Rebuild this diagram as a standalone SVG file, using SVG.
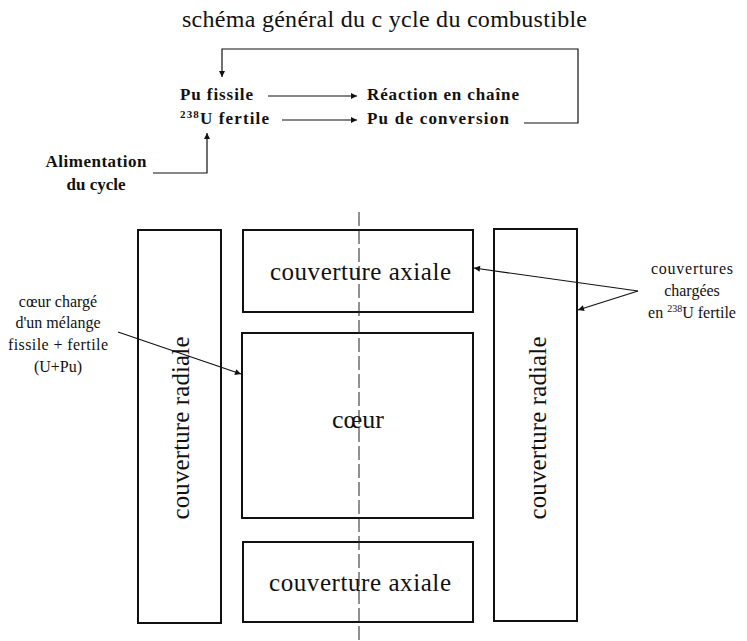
<svg xmlns="http://www.w3.org/2000/svg" width="747" height="641" viewBox="0 0 747 641">
  <style>
    .t { font-family: "Liberation Serif", "Times New Roman", serif; fill: #111; }
    .title { font-size: 24px; }
    .lbl { font-size: 17px; font-weight: bold; }
    .box { fill: none; stroke: #111; stroke-width: 2; }
    .big { font-size: 25px; }
    .small { font-size: 16px; }
    .ln { fill: none; stroke: #111; stroke-width: 1.2; }
    .axis { fill: none; stroke: #222; stroke-width: 1; stroke-dasharray: 14 4; }
  </style>
  <defs>
    <marker id="ah" viewBox="0 0 10 10" refX="10" refY="5" markerWidth="8" markerHeight="6" markerUnits="userSpaceOnUse" orient="auto">
      <path d="M0,0 L10,5 L0,10 z" fill="#111"/>
    </marker>
  </defs>

  <rect width="747" height="641" fill="#fff"/>

  <text class="t title" x="182" y="27" textLength="405" lengthAdjust="spacing">schéma général du c ycle du combustible</text>

  <!-- cycle scheme -->
  <g id="pu-fissile"><text class="t lbl" x="180" y="100" textLength="73" lengthAdjust="spacing">Pu fissile</text></g>
  <g id="u-fertile"><text class="t lbl" x="180" y="124" textLength="89" lengthAdjust="spacing"><tspan font-size="11" dy="-6">238</tspan><tspan dy="6">U fertile</tspan></text></g>
  <g id="reaction"><text class="t lbl" x="367" y="100" textLength="152" lengthAdjust="spacing">Réaction en chaîne</text></g>
  <g id="pu-conversion"><text class="t lbl" x="367" y="124" textLength="142" lengthAdjust="spacing">Pu de conversion</text></g>
  <g id="alimentation">
    <text class="t lbl" x="96" y="167" text-anchor="middle" textLength="101" lengthAdjust="spacing">Alimentation</text>
    <text class="t lbl" x="96" y="190" text-anchor="middle">du cycle</text>
  </g>

  <g id="cycle-connectors">
    <line class="ln" x1="268" y1="96" x2="357" y2="96" marker-end="url(#ah)"/>
    <line class="ln" x1="282" y1="120" x2="357" y2="120" marker-end="url(#ah)"/>
    <polyline class="ln" points="524,123 578,123 578,49 222,49 222,77" marker-end="url(#ah)"/>
    <polyline class="ln" points="153,173 207,173 207,133" marker-end="url(#ah)"/>
  </g>

  <!-- core layout -->
  <g id="radiale-gauche">
    <rect class="box" x="138" y="230" width="83" height="393"/>
    <text class="t big" transform="translate(189,428) rotate(-90)" text-anchor="middle" textLength="183" lengthAdjust="spacing">couverture radiale</text>
  </g>
  <g id="axiale-haut">
    <rect class="box" x="243" y="230" width="230" height="82"/>
    <text class="t big" x="270" y="280" textLength="181" lengthAdjust="spacing">couverture axiale</text>
  </g>
  <g id="coeur">
    <rect class="box" x="242" y="333" width="231" height="185"/>
    <text class="t big" x="332" y="428" textLength="52" lengthAdjust="spacingAndGlyphs">cœur</text>
  </g>
  <g id="axiale-bas">
    <rect class="box" x="243" y="542" width="230" height="80"/>
    <text class="t big" x="269" y="591" textLength="182" lengthAdjust="spacing">couverture axiale</text>
  </g>
  <g id="radiale-droite">
    <rect class="box" x="494" y="229" width="83" height="392"/>
    <text class="t big" transform="translate(546,428) rotate(-90)" text-anchor="middle" textLength="183" lengthAdjust="spacing">couverture radiale</text>
  </g>

  <!-- symmetry axis, drawn over the blocks -->
  <line class="axis" x1="359" y1="212" x2="359" y2="641"/>

  <g id="note-coeur">
    <text class="t small" x="58" y="307" text-anchor="middle">cœur chargé</text>
    <text class="t small" x="58" y="328" text-anchor="middle">d'un mélange</text>
    <text class="t small" x="58" y="350" text-anchor="middle" textLength="100" lengthAdjust="spacing">fissile + fertile</text>
    <text class="t small" x="58" y="372" text-anchor="middle">(U+Pu)</text>
  </g>
  <g id="note-couvertures">
    <text class="t small" x="692" y="274" text-anchor="middle" textLength="82" lengthAdjust="spacing">couvertures</text>
    <text class="t small" x="692" y="296" text-anchor="middle">chargées</text>
    <text class="t small" x="692" y="318" text-anchor="middle"><tspan>en </tspan><tspan font-size="10" dy="-6">238</tspan><tspan dy="6">U fertile</tspan></text>
  </g>

  <g id="note-connectors">
    <line class="ln" x1="118" y1="332" x2="241" y2="374" marker-end="url(#ah)"/>
    <line class="ln" x1="638" y1="291" x2="474" y2="268" marker-end="url(#ah)"/>
    <line class="ln" x1="638" y1="291" x2="578" y2="310" marker-end="url(#ah)"/>
  </g>
</svg>
